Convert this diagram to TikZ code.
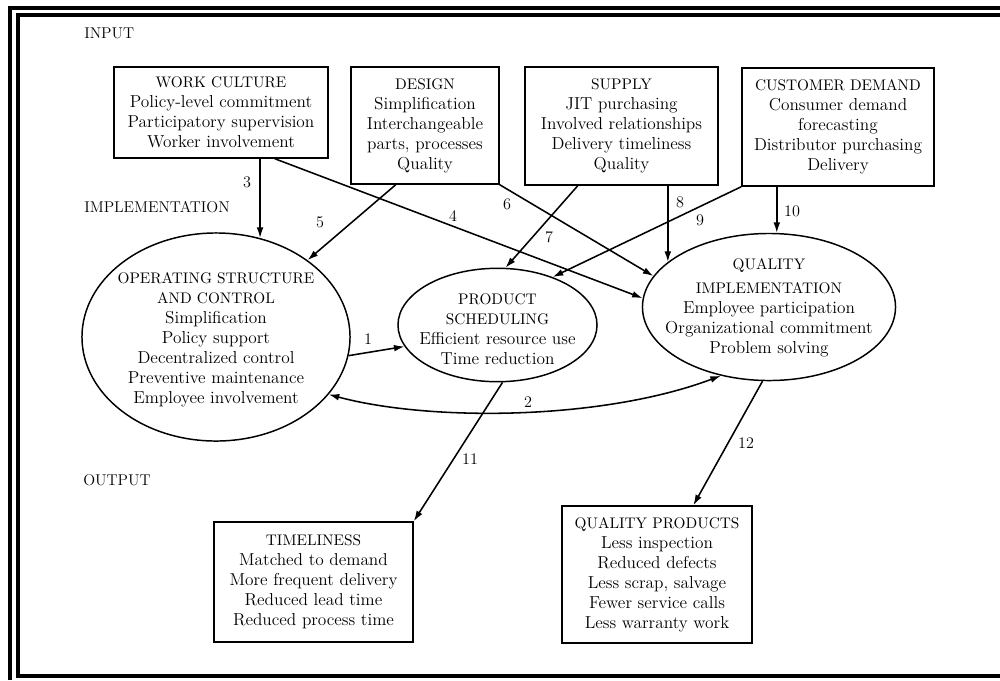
\documentclass[tikz,border=0pt]{standalone}
\usetikzlibrary{shapes.geometric,arrows.meta,calc}
% smaller capitals for the heading line of each block
\newcommand{\caphd}[1]{{\fontsize{10.9}{14.2}\selectfont #1}}
\begin{document}
\begin{tikzpicture}[x=0.025cm,y=-0.025cm,
  font=\fontsize{12.3}{14.2}\selectfont,
  box/.style={draw,line width=1.05pt,align=center,inner sep=0pt},
  oval/.style={draw,ellipse,line width=1.05pt,inner sep=0pt},
  ovaltext/.style={align=center,inner sep=0pt},
  link/.style={line width=1.1pt,-{Latex[length=7.5pt,width=4.8pt]}},
  twoway/.style={line width=1.1pt,{Latex[length=7.5pt,width=4.8pt]}-{Latex[length=7.5pt,width=4.8pt]}},
  num/.style={font=\fontsize{11.5}{12}\selectfont,inner sep=0pt},
  stage/.style={font=\fontsize{11.1}{12}\selectfont,anchor=west,inner sep=0pt},
  rule/.style={line width=2.85pt}
]
\useasboundingbox (0,0) rectangle (1000,680);

% double rule along the left and top, inner one also along the bottom
\draw[rule] (10,680) -- (10,8) -- (1000,8);
\draw[rule] (1000,15) -- (18,15) -- (18,675.5) -- (1000,675.5);

% stage titles
\node[stage] (sin)  at (84,33)  {INPUT};
\node[stage] (simp) at (84,207) {IMPLEMENTATION};
\node[stage] (sout) at (83,480) {OUTPUT};

% input blocks
\node[box,minimum width=5.35cm,minimum height=2.275cm] (wc) at (221,112.5)
  {\caphd{WORK CULTURE}\\Policy-level commitment\\Participatory supervision\\Worker involvement};
\node[box,minimum width=3.7cm,minimum height=2.925cm] (des) at (425,125.5)
  {\caphd{DESIGN}\\Simplification\\Interchangeable\\parts, processes\\Quality};
\node[box,minimum width=4.825cm,minimum height=2.95cm] (sup) at (621.5,126)
  {\caphd{SUPPLY}\\JIT purchasing\\Involved relationships\\Delivery timeliness\\Quality};
\node[box,minimum width=4.8cm,minimum height=2.95cm] (cd) at (838,127)
  {\caphd{CUSTOMER DEMAND}\\Consumer demand\\forecasting\\Distributor purchasing\\Delivery};

% implementation ellipses
\node[oval,minimum width=6.7cm,minimum height=5.2cm] (ops) at (216,337) {};
\node[ovaltext] (opst) at (216,340)
  {\caphd{OPERATING STRUCTURE}\\\caphd{AND CONTROL}\\Simplification\\Policy support\\Decentralized control\\Preventive maintenance\\Employee involvement};
\node[oval,minimum width=4.975cm,minimum height=2.835cm] (pr) at (497.5,325) {};
\node[ovaltext] (prt) at (497.5,329)
  {\caphd{PRODUCT}\\\caphd{SCHEDULING}\\Efficient resource use\\Time reduction};
\node[oval,minimum width=6.325cm,minimum height=3.675cm] (qi) at (769,307) {};
\node[ovaltext] (qit) at (769,308)
  {\caphd{QUALITY}\\[3pt]\caphd{IMPLEMENTATION}\\Employee participation\\Organizational commitment\\Problem solving};

% output blocks
\node[box,minimum width=4.975cm,minimum height=3.0cm] (tl) at (313.5,582)
  {\caphd{TIMELINESS}\\Matched to demand\\More frequent delivery\\Reduced lead time\\Reduced process time};
\node[box,minimum width=4.75cm,minimum height=3.425cm] (qp) at (657,574.5)
  {\caphd{QUALITY PRODUCTS}\\Less inspection\\Reduced defects\\Less scrap, salvage\\Fewer service calls\\Less warranty work};

% connectors
\draw[link] (wc.south -| ops.66) -- (ops.66);
\draw[link] ($(wc.south west)!0.75!(wc.south east)$) -- (qi.176.8);
\draw[link] ($(des.south west)!0.304!(des.south east)$) -- (ops.40.2);
\draw[link] (des.south east) -- (qi.165.6);
\draw[link] ($(sup.south west)!0.275!(sup.south east)$) -- (pr.82);
\draw[link] (sup.south -| qi.156.3) -- (qi.156.3);
\draw[link] (cd.south west) -- (pr.41.5);
\draw[link] (cd.south -| qi.84.5) -- (qi.84.5);
\draw[link] (ops.-8) -- (pr.193.8);
\draw[twoway] (ops.-27) .. controls +(100,27) and +(-120,45) .. (qi.235);
\draw[link] (pr.-85) -- (tl.north east);
\draw[link] (qi.265) -- ($(qp.north west)!0.69!(qp.north east)$);

% connector numbers
\node[num] (n1)  at (368,339) {1};
\node[num] (n2)  at (528,402) {2};
\node[num] (n3)  at (247,182) {3};
\node[num] (n4)  at (453,216) {4};
\node[num] (n5)  at (320,222) {5};
\node[num] (n6)  at (507,204) {6};
\node[num] (n7)  at (549,237) {7};
\node[num] (n8)  at (680,202) {8};
\node[num] (n9)  at (700,220) {9};
\node[num] (n10) at (792,211) {10};
\node[num] (n11) at (470,459) {11};
\node[num] (n12) at (746,443) {12};
\end{tikzpicture}
\end{document}
